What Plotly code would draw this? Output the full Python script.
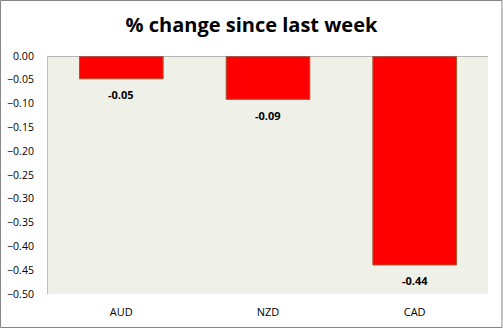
import plotly.graph_objects as go

categories = ["AUD", "NZD", "CAD"]
values = [-0.048, -0.091, -0.439]
title_text = "% change since last week"

W, H = 503, 329
L, R, T, B = 48, 15, 56, 35
pw, ph = W - L - R, H - T - B

fig = go.Figure(go.Bar(
    x=categories, y=values,
    marker=dict(color="#FF0000", line=dict(color="#A9532C", width=1)),
    width=0.57,
))

annotations = [
    dict(x=c, y=v, xref="x", yref="y", text="<b>%.2f</b>" % v, showarrow=False,
         yanchor="middle", yshift=-16,
         font=dict(family="Open Sans", size=11, color="#000000"))
    for c, v in zip(categories, values)
]

fig.update_layout(
    width=W, height=H,
    margin=dict(l=L, r=R, t=T, b=B, autoexpand=False),
    paper_bgcolor="white", plot_bgcolor="#EFF1E9",
    title=dict(text="<b>" + title_text + "</b>", x=0.5, xanchor="center",
               y=1 - 25 / H, yanchor="middle",
               font=dict(family="Open Sans", size=20, color="#000000")),
    showlegend=False,
    font=dict(family="Open Sans", size=11, color="#000000"),
    annotations=annotations,
    xaxis=dict(showgrid=False, showline=False, ticks="", ticklabelstandoff=10,
               automargin=False, tickfont=dict(size=11)),
    yaxis=dict(range=[-0.5, 0], dtick=0.05, tickformat=".2f", showgrid=False,
               zeroline=False, showline=True, linecolor="#BFBFBF", linewidth=1,
               automargin=False, ticks="", ticklabelstandoff=11,
               tickfont=dict(size=10.5)),
    shapes=[
        dict(type="line", xref="paper", yref="y", x0=0, x1=1, y0=0, y1=0,
             line=dict(color="#808080", width=1)),
        dict(type="rect", xref="paper", yref="paper",
             x0=(0.5 - L) / pw, x1=(502 - L) / pw,
             y0=(T + ph - 327.5) / ph, y1=(T + ph - 0.5) / ph,
             line=dict(color="#868686", width=1)),
    ],
)

fig.write_html("out.html")
